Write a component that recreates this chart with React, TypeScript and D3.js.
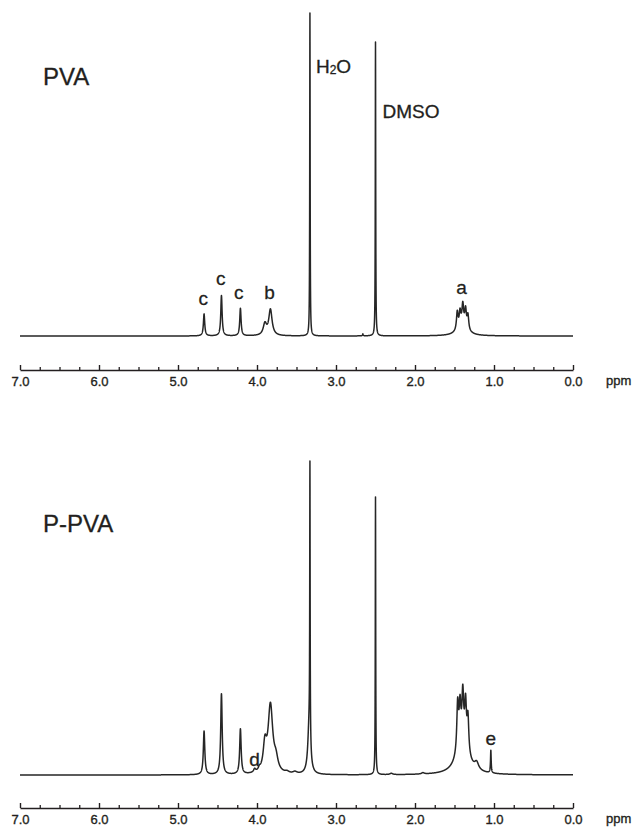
import { useEffect, useRef } from "react";
import * as d3 from "d3";

const W = 636;
const H = 829;

// axis ticks (ppm)
const majorTicks = [7, 6, 5, 4, 3, 2, 1, 0];
const minorTicks = [6.75, 6.5, 6.25, 5.75, 5.5, 5.25, 4.75, 4.5, 4.25, 3.75, 3.5, 3.25,
  2.75, 2.5, 2.25, 1.75, 1.5, 1.25, 0.75, 0.5, 0.25];

// PVA peak list: shift (ppm), height (% of H2O), half width (ppm)
const pvaShift = [4.67, 4.45, 4.21, 3.9, 3.83, 3.33, 2.66, 2.5, 1.465, 1.43, 1.395, 1.36, 1.33, 1.4];
const pvaHeight = [6.8, 12.5, 8.5, 3.5, 8.0, 100, 0.6, 91, 5.5, 4.5, 6.2, 5.5, 4.5, 3.2];
const pvaWidth = [0.01, 0.01, 0.01, 0.025, 0.025, 0.003, 0.005, 0.003, 0.012, 0.012, 0.012, 0.012, 0.012, 0.07];

// P-PVA peak list
const ppvaShift = [4.67, 4.45, 4.21, 4.03, 3.97, 3.9, 3.83, 3.76, 3.62, 3.52, 3.33, 3.34, 2.5, 2.3, 1.9,
  1.46, 1.43, 1.395, 1.36, 1.33, 1.4, 1.22, 1.04];
const ppvaHeight = [13.5, 25, 14, 1.0, 0.8, 8, 21, 3.5, 0.5, 0.6, 85, 15, 86, 0.4, 0.4,
  15, 12, 15, 13.5, 11, 9, 2.2, 7];
const ppvaWidth = [0.011, 0.011, 0.011, 0.015, 0.015, 0.025, 0.035, 0.03, 0.03, 0.03, 0.003, 0.02, 0.003, 0.02, 0.02,
  0.013, 0.013, 0.013, 0.013, 0.013, 0.09, 0.03, 0.005];

// peak annotations: text, ppm, label baseline level
const pvaLabelText = ["c", "c", "c", "b", "a"];
const pvaLabelShift = [4.68, 4.46, 4.23, 3.84, 1.41];
const pvaLabelLevel = [9.6, 15.8, 11.5, 11.5, 13];
const ppvaLabelText = ["d", "e"];
const ppvaLabelShift = [4.03, 1.04];
const ppvaLabelLevel = [2.9, 9.4];

const font = "'Liberation Sans', Arial, sans-serif";
const ink = "#231f20";

function spectrum(shift: number[], height: number[], width: number[]) {
  const xs = d3.range(0, 7.0005, 0.001).concat(shift);
  xs.sort((a, b) => a - b);
  return xs.map((x) => {
    let v = 0;
    shift.forEach((s, i) => {
      const w = width[i];
      v += (height[i] * w * w) / ((x - s) * (x - s) + w * w);
    });
    return [x, v];
  });
}

const App = () => {
  const svgRef = useRef<SVGSVGElement>(null);

  useEffect(() => {
    const svg = d3.select(svgRef.current);
    svg.selectAll("*").remove();

    const x = d3.scaleLinear().domain([7, 0]).range([20, 573]);

    const panels = [
      { base: 336, axis: 370, title: "PVA", titleY: 85, shift: pvaShift, height: pvaHeight, width: pvaWidth,
        labels: pvaLabelText, lShift: pvaLabelShift, lLevel: pvaLabelLevel },
      { base: 775, axis: 808, title: "P-PVA", titleY: 531.5, shift: ppvaShift, height: ppvaHeight, width: ppvaWidth,
        labels: ppvaLabelText, lShift: ppvaLabelShift, lLevel: ppvaLabelLevel },
    ];

    panels.forEach((p, pi) => {
      const y = d3.scaleLinear().domain([0, 100]).range([p.base, p.base - 323]);
      const g = svg.append("g");

      const line = d3.line<number[]>()
        .x((d) => x(d[0]))
        .y((d) => y(d[1]));

      g.append("path")
        .datum(spectrum(p.shift, p.height, p.width))
        .attr("d", line)
        .attr("fill", "none")
        .attr("stroke", "#262626")
        .attr("stroke-width", 1.5)
        .attr("stroke-linejoin", "round");

      // axis with inward ticks
      const major = g.append("g")
        .attr("transform", `translate(0, ${p.axis})`)
        .call(d3.axisBottom(x).tickValues(majorTicks).tickFormat(d3.format(".1f"))
          .tickSizeInner(-5).tickSizeOuter(0).tickPadding(7));
      major.select(".domain").attr("stroke", ink).attr("stroke-width", 1.4);
      major.selectAll(".tick line").attr("stroke", ink).attr("stroke-width", 1.4);
      major.selectAll(".tick text")
        .attr("font-family", font).attr("font-size", 13).attr("fill", ink)
        .attr("stroke", ink).attr("stroke-width", 0.35);

      const minor = g.append("g")
        .attr("transform", `translate(0, ${p.axis})`)
        .call(d3.axisBottom(x).tickValues(minorTicks).tickFormat(() => "")
          .tickSizeInner(-3).tickSizeOuter(0));
      minor.select(".domain").remove();
      minor.selectAll(".tick line").attr("stroke", ink).attr("stroke-width", 1.3);

      g.append("text")
        .attr("x", 606).attr("y", p.axis + 15)
        .attr("font-family", font).attr("font-size", 13).attr("fill", ink)
        .attr("stroke", ink).attr("stroke-width", 0.35)
        .text("ppm");

      g.append("text")
        .attr("x", 43).attr("y", p.titleY)
        .attr("font-family", font).attr("font-size", 24).attr("fill", ink)
        .attr("stroke", ink).attr("stroke-width", 0.3)
        .text(p.title);

      g.selectAll("text.peak")
        .data(p.labels)
        .join("text")
        .attr("class", "peak")
        .attr("x", (_d, i) => x(p.lShift[i]))
        .attr("y", (_d, i) => y(p.lLevel[i]))
        .attr("text-anchor", "middle")
        .attr("font-family", font).attr("font-size", 19).attr("fill", ink)
        .attr("stroke", ink).attr("stroke-width", 0.3)
        .text((d) => d);

      if (pi === 0) {
        const h2o = g.append("text")
          .attr("x", x(3.33) + 6).attr("y", y(81.4))
          .attr("font-family", font).attr("font-size", 19).attr("fill", ink)
          .attr("stroke", ink).attr("stroke-width", 0.3);
        h2o.append("tspan").text("H");
        h2o.append("tspan").attr("font-size", 12).attr("dy", 1).text("2");
        h2o.append("tspan").attr("dy", -1).text("O");

        g.append("text")
          .attr("x", x(2.5) + 7).attr("y", y(67.5))
          .attr("font-family", font).attr("font-size", 19).attr("fill", ink)
          .attr("stroke", ink).attr("stroke-width", 0.3)
          .text("DMSO");
      }
    });
  }, []);

  return (
    <div style={{ position: "absolute", left: 0, top: 0 }}>
      <svg ref={svgRef} width={W} height={H} style={{ display: "block", background: "#fff" }} />
    </div>
  );
};

export default App;
